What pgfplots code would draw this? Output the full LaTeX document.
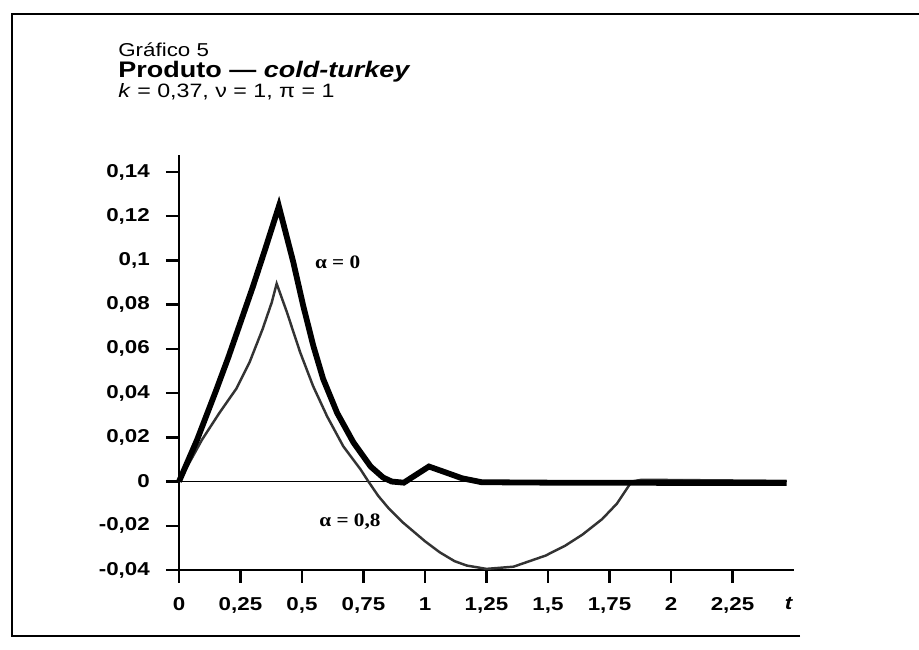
\documentclass[border=0pt]{standalone}
\usepackage{fontspec}
\setmainfont{Liberation Sans}[FakeStretch=1.2]
\newfontfamily\serifb{Liberation Serif}[FakeStretch=1.12]
\usepackage{pgfplots}
\pgfplotsset{compat=1.18}
\pgfplotstableread{
t v
0 0
0.074 0.019
0.15 0.041
0.2 0.056
0.25 0.072
0.3 0.088
0.35 0.105
0.406 0.1245
0.464 0.0995
0.505 0.0795
0.546 0.0614
0.586 0.0464
0.643 0.031
0.709 0.0177
0.779 0.0068
0.83 0.0018
0.865 0
0.914 -0.0005
1.016 0.0068
1.1 0.0035
1.15 0.0015
1.23 -0.0003
1.5 -0.0005
2.0 -0.0006
2.47 -0.0007
}\alphazero
\pgfplotstableread{
t v
0 0
0.094 0.019
0.164 0.031
0.233 0.042
0.287 0.054
0.34 0.069
0.377 0.081
0.397 0.0895
0.438 0.0768
0.492 0.0586
0.545 0.0432
0.602 0.0295
0.668 0.0159
0.738 0.0055
0.77 0
0.81 -0.0065
0.85 -0.0118
0.91 -0.0185
1.0 -0.027
1.06 -0.032
1.12 -0.036
1.17 -0.038
1.25 -0.0395
1.36 -0.0385
1.49 -0.0335
1.57 -0.029
1.64 -0.024
1.72 -0.017
1.78 -0.01
1.84 0
1.88 0.0008
2.47 0.0003
}\alphaeight
\begin{document}
\begin{tikzpicture}[x=1cm,y=1cm]
\useasboundingbox (0,0) rectangle (18.38,13);
\draw[line width=0.6pt] (16,0.28) -- (0.24,0.28) -- (0.24,12.72) -- (18.38,12.72);
\node[anchor=base west, inner sep=0pt, font=\fontsize{10.6}{12}\selectfont] at (2.36,11.86) {Gráfico 5};
\node[anchor=base west, inner sep=0pt, font=\fontsize{12.8}{14}\selectfont\bfseries] at (2.36,11.44) {Produto --- \textit{cold-turkey}};
\node[anchor=base west, inner sep=0pt, font=\fontsize{11}{12}\selectfont] at (2.36,11.04) {\textit{k} = 0,37, ν = 1, π = 1};
\begin{axis}[
  at={(3.58cm,1.6cm)}, anchor=south west,
  scale only axis, width=12.3cm, height=8.3cm,
  xmin=0, xmax=2.5, ymin=-0.04, ymax=0.1477,
  axis lines=left,
  axis line style={line width=1.4pt,-},
  tick style={line width=1.4pt,black},
  tick align=outside,
  major tick length=0.26cm,
  xtick={0,0.25,0.5,0.75,1,1.25,1.5,1.75,2,2.25},
  xticklabels={0,{0,25},{0,5},{0,75},1,{1,25},{1,5},{1,75},2,{2,25}},
  ytick={-0.04,-0.02,0,0.02,0.04,0.06,0.08,0.1,0.12,0.14},
  yticklabels={{-0,04},{-0,02},0,{0,02},{0,04},{0,06},{0,08},{0,1},{0,12},{0,14}},
  extra x ticks={2.48},
  extra x tick labels={\textit{t}},
  extra x tick style={major tick style={draw=none}},
  tick label style={font=\fontsize{10.6}{12}\selectfont\bfseries},
  yticklabel style={xshift=-0.2cm},
  xticklabel style={yshift=-0.16cm},
  clip=false,
]
\addplot[black, line width=1pt] coordinates {(0,0) (2.47,0)};
\addplot[black!80, line width=1.4pt] table[x=t,y=v] {\alphaeight};
\addplot[black, line width=3.3pt, line join=miter] table[x=t,y=v] {\alphazero};
\node[font=\serifb\fontsize{10.8}{12}\selectfont\bfseries] at (axis cs:0.645,0.099) {α = 0};
\node[font=\serifb\fontsize{10.8}{12}\selectfont\bfseries] at (axis cs:0.695,-0.018) {α = 0,8};
\end{axis}
\end{tikzpicture}
\end{document}
